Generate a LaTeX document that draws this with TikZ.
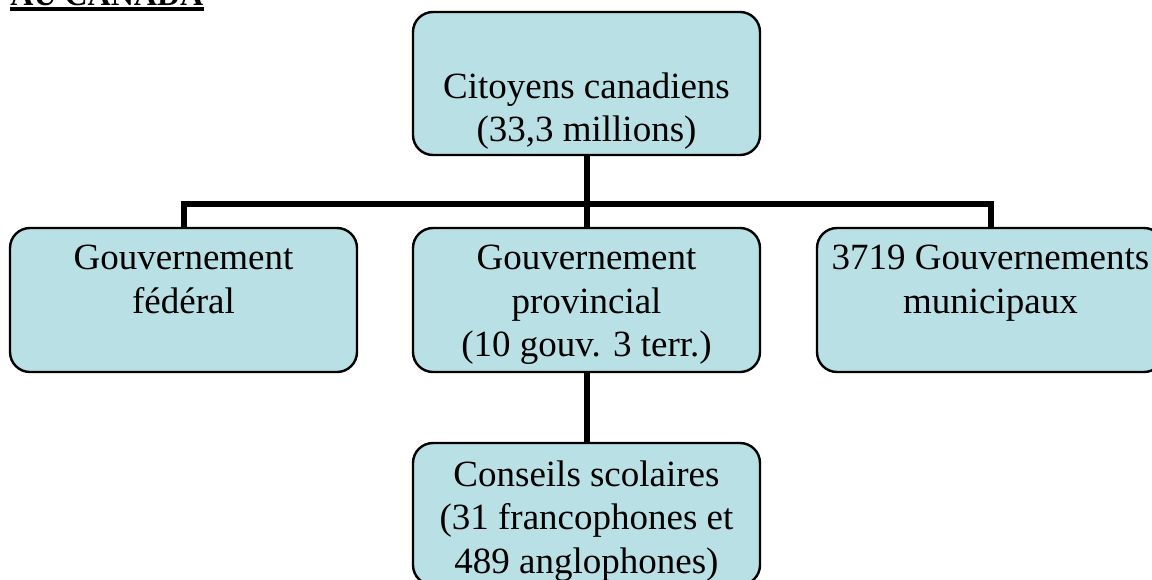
\documentclass[tikz,border=0pt]{standalone}
\usepackage{fontspec}
\setmainfont{Liberation Serif}
\usetikzlibrary{positioning}
\definecolor{boxblue}{RGB}{185,224,228}

\begin{document}
\begin{tikzpicture}[x=0.5pt,y=-0.5pt,
  box/.style={draw,line width=1.2pt,fill=boxblue,rounded corners=10pt,minimum width=173.5pt,minimum height=72pt,outer sep=0pt,inner sep=0pt},
  txt/.style={align=center,inner sep=0pt,font=\fontsize{18.5}{21.75}\selectfont},
  conn/.style={line width=3pt}]
\useasboundingbox (0,0) rectangle (1152,579);
% titre
\node[anchor=base west,inner sep=0pt,font=\fontsize{16}{19}\selectfont\bfseries] (titre) at (10,5) {AU CANADA};
\draw[line width=2pt] ([yshift=-2pt]titre.base west) -- ([yshift=-2pt]titre.base east);
% connecteurs
\coordinate (bus) at (586.5,204);
\node[box,minimum height=71.5pt] (cit) at (586.5,83.5) {};
\node[box] (fed) at (183.5,300) {};
\node[box] (prov) at (586.5,300) {};
\node[box] (mun) at (990.5,300) {};
\node[box,minimum height=71pt] (ecole) at (586.5,514) {};
\draw[conn] (cit.south) -- (prov.north);
\draw[conn] (fed.north) |- (bus) -| (mun.north);
\draw[conn] (prov.south) -- (ecole.north);
% textes
\node[txt,below=30pt of cit.north] (citT) {Citoyens canadiens\\(33,3 millions)};
\node[txt,below=8.5pt of fed.north] (fedT) {Gouvernement\\fédéral};
\node[txt,below=8.5pt of prov.north] (provT) {Gouvernement\\provincial\\(10 gouv. 3 terr.)};
\node[txt,below=8.5pt of mun.north] (munT) {3719 Gouvernements\\municipaux};
\node[txt,below=8.5pt of ecole.north] (ecoleT) {Conseils scolaires\\(31 francophones et\\489 anglophones)};
\end{tikzpicture}
\end{document}
